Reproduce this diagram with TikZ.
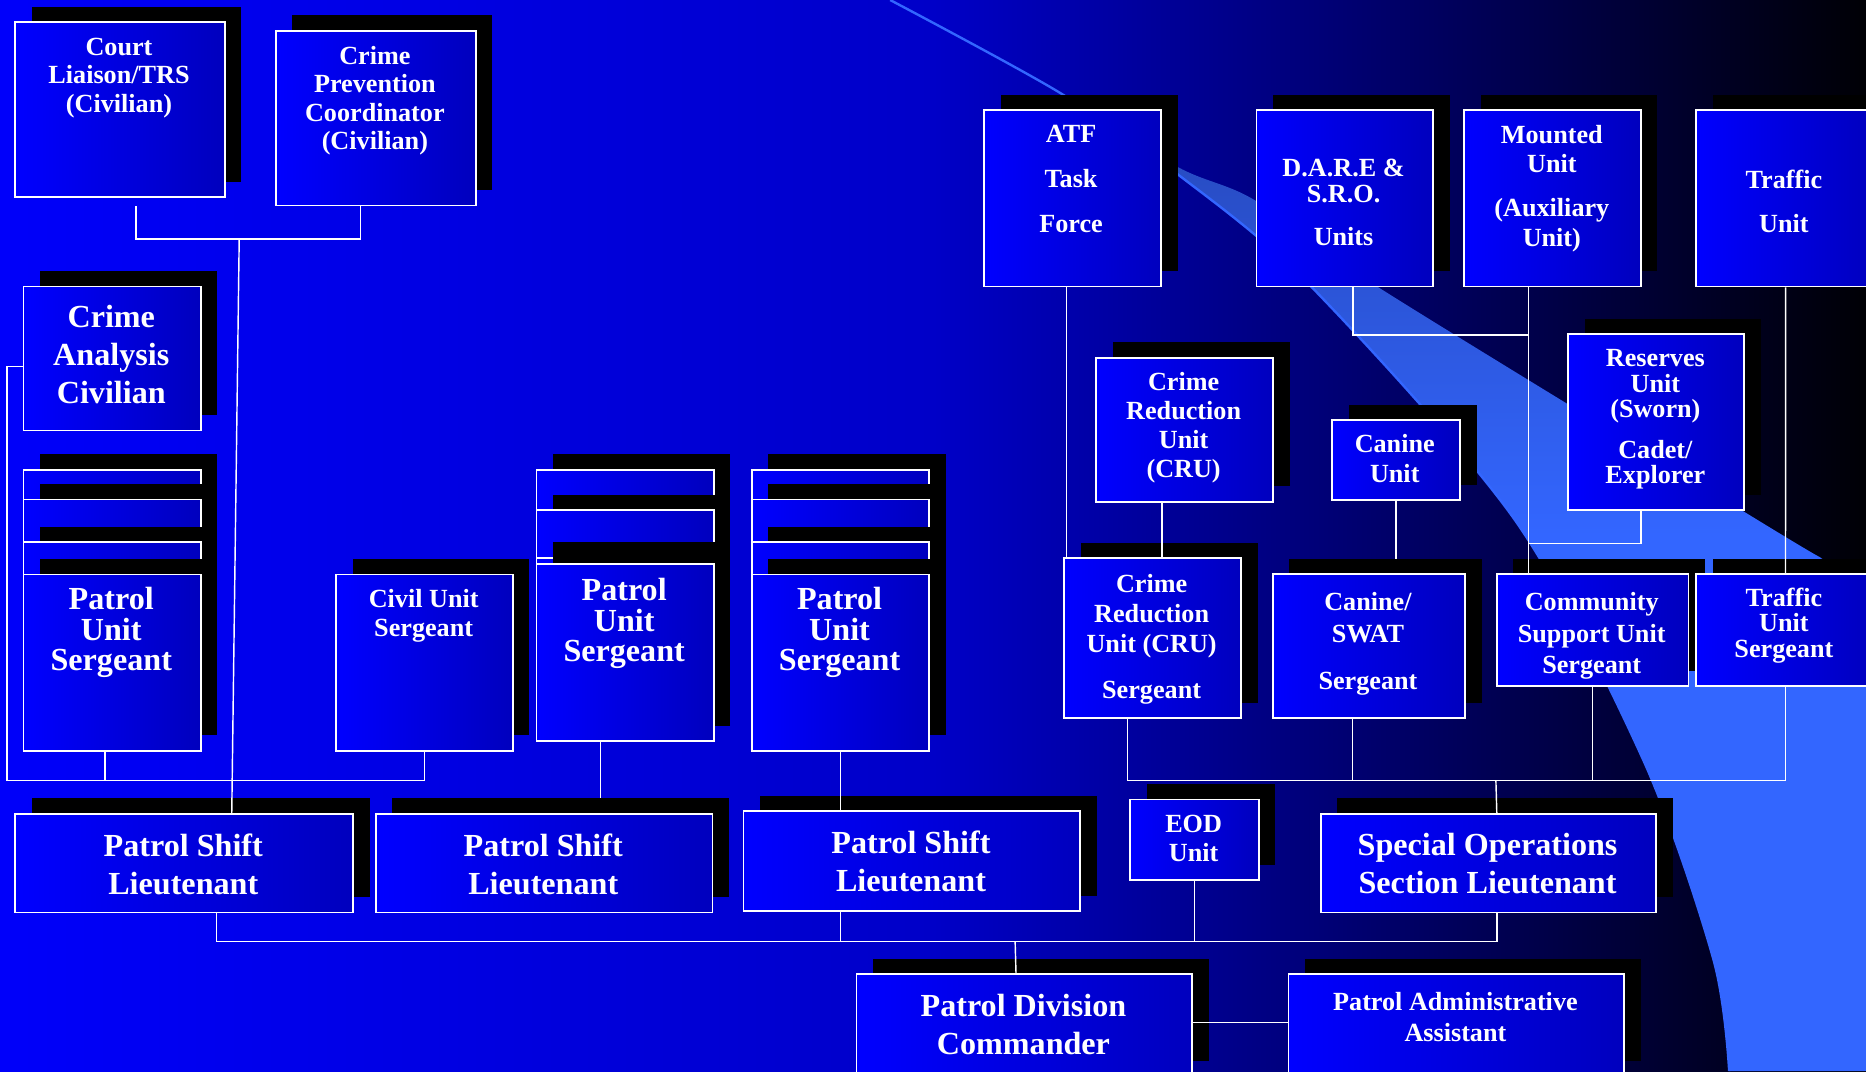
\documentclass[tikz,border=0pt]{standalone}
\usepackage{fontspec}
\setmainfont{Liberation Serif}
\usetikzlibrary{shadows}
\definecolor{boxl}{RGB}{0,0,255}
\definecolor{boxr}{RGB}{0,0,190}
\definecolor{bgl}{RGB}{0,0,250}
\definecolor{bgm}{RGB}{0,0,200}
\definecolor{bgr}{RGB}{0,0,5}
\definecolor{bandtop}{RGB}{35,65,170}
\definecolor{bandbot}{RGB}{51,102,255}
\pgfdeclarelayer{back}
\pgfdeclarelayer{mid}
\pgfsetlayers{back,mid,main}
\tikzset{
  unit/.style={draw=white, line width=1.5pt, left color=boxl, right color=boxr,
    anchor=north west, inner sep=0pt,
    drop shadow={shadow xshift=14pt, shadow yshift=13pt, fill=black, opacity=1}},
  txt/.style={text=white, align=center, inner sep=0pt,
    font=\bfseries\fontsize{22}{24}\selectfont},
  big/.style={font=\bfseries\fontsize{27}{32}\selectfont},
  stk/.style={font=\bfseries\fontsize{27}{25.5}\selectfont},
  lead/.style={font=\bfseries\fontsize{22}{#1}\selectfont},
  link/.style={draw=white, line width=1.2pt}
}

\begin{document}
\begin{tikzpicture}[x=1pt, y=-1pt]
\useasboundingbox (0,0) rectangle (1568,900);
\begin{pgfonlayer}{back}
\shade[left color=bgl, right color=bgr, middle color=bgm] (0,0) rectangle (1568,900);
\shade[top color=bandtop, bottom color=bandbot, middle color=bandbot]
  plot[smooth] coordinates {(748,0) (889,77) (989,146) (1101,240) (1273,437) (1381,639) (1440,807) (1453,900)}
  -- (1568,900) -- (1568,497)
  -- plot[smooth] coordinates {(1529,468) (1477,437) (1156,240) (1054,168) (989,140) (889,77) (748,0)} -- cycle;
\draw[bandbot, line width=2pt] plot[smooth] coordinates {(748,0) (889,77) (989,146) (1101,240) (1273,437) (1381,639) (1440,807) (1453,900)};
\end{pgfonlayer}

% staff
\node[unit, minimum width=176pt, minimum height=147pt] (court) at (12,18) {};
\node[unit, minimum width=168pt, minimum height=147pt] (prev) at (231,25) {};
\node[unit, minimum width=149pt, minimum height=121pt] (analysis) at (19,240) {};
% sergeants
\node[unit, minimum width=149pt, minimum height=148pt] (pus1a) at (19,394) {};
\node[unit, minimum width=149pt, minimum height=148pt] (pus1b) at (19,419) {};
\node[unit, minimum width=149pt, minimum height=148pt] (pus1c) at (19,455) {};
\node[unit, minimum width=149pt, minimum height=148pt] (pus1) at (19,482) {};
\node[unit, minimum width=148.5pt, minimum height=148pt] (civil) at (281.5,482) {};
\node[unit, minimum width=149pt, minimum height=149pt] (pus2a) at (450,394) {};
\node[unit, minimum width=149pt, minimum height=149pt] (pus2b) at (450,428) {};
\node[unit, minimum width=149pt, minimum height=149pt] (pus2c) at (450,468) {};
\node[unit, minimum width=149pt, minimum height=149pt] (pus2) at (450,473) {};
\node[unit, minimum width=149pt, minimum height=148pt] (pus3a) at (631,394) {};
\node[unit, minimum width=149pt, minimum height=148pt] (pus3b) at (631,419) {};
\node[unit, minimum width=149pt, minimum height=148pt] (pus3c) at (631,455) {};
\node[unit, minimum width=149pt, minimum height=148pt] (pus3) at (631,482) {};
% lieutenants and commander
\node[unit, minimum width=284pt, minimum height=83pt] (lt1) at (12,683) {};
\node[unit, minimum width=283pt, minimum height=83pt] (lt2) at (315,683) {};
\node[unit, minimum width=283pt, minimum height=84pt] (lt3) at (624,681) {};
\node[unit, minimum width=108pt, minimum height=68pt] (eod) at (949,671) {};
\node[unit, minimum width=282pt, minimum height=83pt] (specops) at (1109,683) {};
\node[unit, minimum width=282pt, minimum height=86pt] (cmd) at (719,818) {};
\node[unit, minimum width=282pt, minimum height=86pt] (admin) at (1082,818) {};
% special operations units
\node[unit, minimum width=149pt, minimum height=148pt] (atf) at (826,92) {};
\node[unit, minimum width=148.5pt, minimum height=148pt] (dare) at (1055,92) {};
\node[unit, minimum width=148.4pt, minimum height=148pt] (mounted) at (1229.6,92) {};
\node[unit, minimum width=150pt, minimum height=148pt] (traffic) at (1424.7,92) {};
\node[unit, minimum width=148.6pt, minimum height=121pt] (cru) at (920.3,300) {};
\node[unit, minimum width=107.7pt, minimum height=67.2pt] (canine) at (1118.5,352.4) {};
\node[unit, minimum width=148pt, minimum height=148pt] (reserves) at (1317,280) {};
\node[unit, minimum width=148.7pt, minimum height=134.5pt] (crus) at (893.4,468.3) {};
\node[unit, minimum width=161.6pt, minimum height=121pt] (canswat) at (1068.7,481.8) {};
\node[unit, minimum width=161pt, minimum height=94pt] (comm) at (1257,481.8) {};
\node[unit, minimum width=150pt, minimum height=94pt] (tus) at (1424.6,481.8) {};

% titles
\node[txt] (court-t) at (100,65.5) {Court\\Liaison/TRS\\(Civilian)};
\node[txt] (prev-t) at (315,84.5) {Crime\\Prevention\\Coordinator\\(Civilian)};
\node[txt, big] (analysis-t) at (93.5,298) {Crime\\Analysis\\Civilian};
\node[txt, stk] (pus1-t) at (93.5,531.5) {Patrol\\Unit\\Sergeant};
\node[txt] (civil-t) at (356,517.5) {Civil Unit\\Sergeant};
\node[txt, stk] (pus2-t) at (524.5,524) {Patrol\\Unit\\Sergeant};
\node[txt, stk] (pus3-t) at (705.5,531.5) {Patrol\\Unit\\Sergeant};
\node[txt, big] (lt1-t) at (154,726) {Patrol Shift\\Lieutenant};
\node[txt, big] (lt2-t) at (456.5,726) {Patrol Shift\\Lieutenant};
\node[txt, big] (lt3-t) at (765.5,724) {Patrol Shift\\Lieutenant};
\node[txt, lead=25] (eod-t) at (1003,704.5) {EOD\\Unit};
\node[txt, big] (specops-t) at (1250,726) {Special Operations\\Section Lieutenant};
\node[txt, big] (cmd-t) at (860,860.5) {Patrol Division\\Commander};
\node[txt, lead=26] (admin-t) at (1223,855) {Patrol Administrative\\Assistant};
\node[txt] (atf-t) at (900,150.5) {ATF\\[13.5pt]Task\\[13.5pt]Force};
\node[txt, lead=22] (dare-t) at (1129,170) {D.A.R.E \&\\S.R.O.\\[14pt]Units};
\node[txt, lead=24.5] (mounted-t) at (1304,158.5) {Mounted\\Unit\\[12.5pt](Auxiliary\\Unit)};
\node[txt] (traffic-t) at (1499,169.5) {Traffic\\[13pt]Unit};
\node[txt, lead=24.3] (cru-t) at (994.6,359.5) {Crime\\Reduction\\Unit\\(CRU)};
\node[txt, lead=25] (canine-t) at (1172,385.5) {Canine\\Unit};
\node[txt, lead=21.5] (reserves-t) at (1391,352.5) {Reserves\\Unit\\(Sworn)\\[12.5pt]Cadet/\\Explorer};
\node[txt, lead=25.5] (crus-t) at (967.7,537) {Crime\\Reduction\\Unit (CRU)\\[13pt]Sergeant};
\node[txt, lead=27] (canswat-t) at (1149.5,541) {Canine/\\SWAT\\[13pt]Sergeant};
\node[txt, lead=26.5] (comm-t) at (1337.5,534.5) {Community\\Support Unit\\Sergeant};
\node[txt, lead=21.5] (tus-t) at (1499,525.5) {Traffic\\Unit\\Sergeant};

% connectors, left half
\coordinate (j1) at (201,201);
\draw[link] ([xshift=13.5pt,yshift=-7pt]court.south) |- (j1) -| ([xshift=-13pt]prev.south);
\draw[link] (j1) -- ([xshift=40pt]lt1.north);
\coordinate (j2) at (6,656);
\draw[link] ([yshift=-6.5pt]analysis.west) -| (j2) -| (civil.south);
\draw[link] ([xshift=-6pt]pus1.south) |- (j2);
\draw[link] (pus3.south) -- (pus3.south |- lt3.north);
\coordinate (j3) at (853,791);
\draw[link] ([xshift=27pt]lt1.south) |- (j3) -| ([xshift=7pt]specops.south);
\draw[link] (pus3.south |- lt3.south) -- (pus3.south |- j3);
\draw[link] (eod.south) -- (eod.south |- j3);
\draw[link] (j3) -- ([xshift=-7pt]cmd.north);
\draw[link] ([yshift=2.5pt]cmd.east) -- ([yshift=2.5pt]admin.west);
% connectors, right half
\coordinate (atfx) at ([xshift=-5pt]atf.south);
\draw[link] (atfx) -- (atfx |- crus.north);
\coordinate (mtdx) at ([xshift=-20pt]mounted.south);
\draw[link] (mtdx) -- (mtdx |- comm.north);
\draw[link] ([xshift=7pt]dare.south) -- ++(0,40) -| (mtdx);
\draw[link] ([xshift=-13pt]reserves.south) -- ++(0,27) -| (mtdx);
\draw[link] (traffic.south) -- (tus.north);
\coordinate (crux) at ([xshift=-19pt]cru.south);
\draw[link] (crux) -- (crux |- crus.north);
\coordinate (j5) at (1257,656);
\draw[link] ([xshift=-21pt]crus.south) |- (j5) -| (tus.south);
\coordinate (csx) at ([xshift=-14pt]canswat.south);
\draw[link] (csx) -- (csx |- j5);
\draw[link] (comm.south) -- (comm.south |- j5);
\draw[link] (j5) -- ([xshift=7pt]specops.north);
% these two run under the shadows
\begin{pgfonlayer}{mid}
\coordinate (p2) at ([xshift=-20.5pt]pus2.south);
\draw[link] (p2) -- (p2 |- lt2.north);
\draw[link] (canine.south) -- (canine.south |- canswat.north);
\end{pgfonlayer}
\end{tikzpicture}
\end{document}
